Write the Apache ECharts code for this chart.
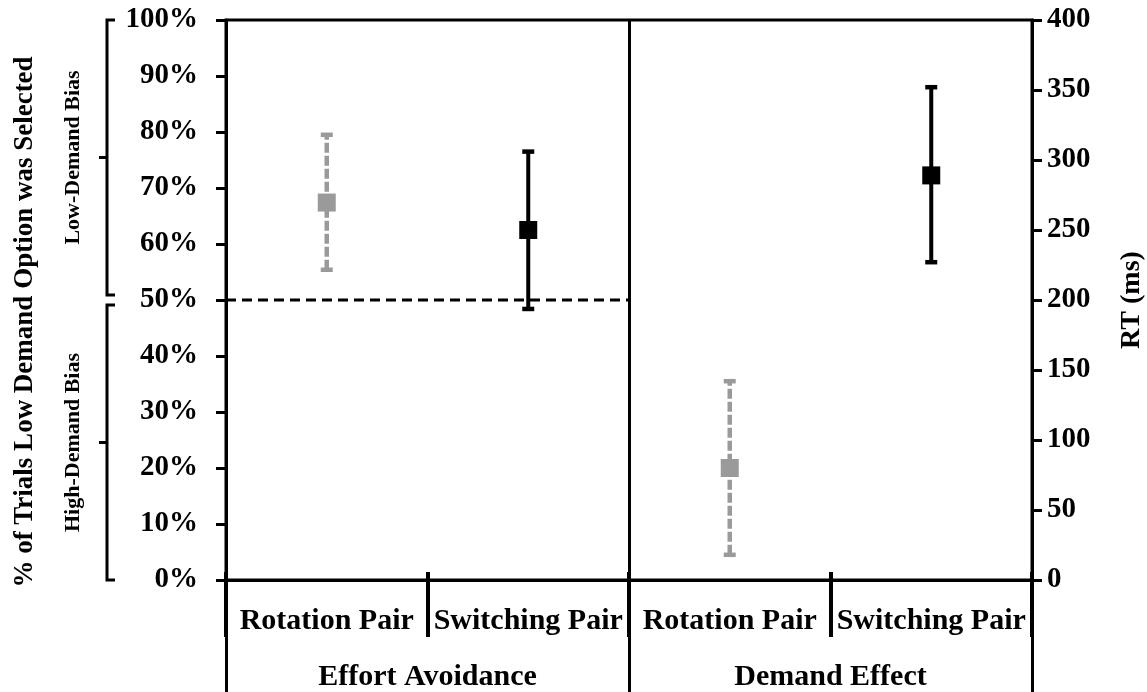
<!DOCTYPE html>
<html>
<head>
<meta charset="utf-8">
<script src="https://cdn.jsdelivr.net/npm/echarts@6/dist/echarts.min.js"></script>
<style>html,body{margin:0;padding:0;background:#fff;}#chart{width:1147px;height:692px;}</style>
</head>
<body>
<div id="chart"></div>
<script>
// ---- data ----
const categories = ['Rotation Pair', 'Switching Pair', 'Rotation Pair', 'Switching Pair'];
const groups = ['Effort Avoidance', 'Demand Effect'];
// Effort Avoidance: % of trials low-demand option selected
const effortMean = [67.4, 62.5];
const effortLow = [55.4, 48.4];
const effortHigh = [79.5, 76.5];
// Demand Effect: RT (ms)
const demandMean = [80, 289];
const demandLow = [18, 227];
const demandHigh = [142, 352];
const chanceLevel = 50;
const pctAxis = { min: 0, max: 100, interval: 10 };
const rtAxis = { min: 0, max: 400, interval: 50 };

const FONT = 'Liberation Serif';
const GRAY = '#9a9a9a';

const chart = echarts.init(document.getElementById('chart'), null, { renderer: 'canvas' });

const effortData = effortMean.map((m, i) => [i, m, effortLow[i], effortHigh[i]]);
const demandData = demandMean.map((m, i) => [i + 2, m, demandLow[i], demandHigh[i]]);

function renderErr(params, api) {
  const xi = api.value(0);
  const pM = api.coord([xi, api.value(1)]);
  const pL = api.coord([xi, api.value(2)]);
  const pH = api.coord([xi, api.value(3)]);
  const gray = xi % 2 === 0;
  const c = gray ? GRAY : '#000';
  const cap = 6, sq = 18;
  return {
    type: 'group',
    children: [
      { type: 'line', shape: { x1: pL[0], y1: pL[1], x2: pH[0], y2: pH[1] },
        style: { stroke: c, lineWidth: gray ? 4.5 : 4, lineDash: gray ? [10, 3] : null } },
      { type: 'line', shape: { x1: pL[0] - cap, y1: pL[1], x2: pL[0] + cap, y2: pL[1] },
        style: { stroke: c, lineWidth: 4.5 } },
      { type: 'line', shape: { x1: pH[0] - cap, y1: pH[1], x2: pH[0] + cap, y2: pH[1] },
        style: { stroke: c, lineWidth: 4.5 } },
      { type: 'rect', shape: { x: pM[0] - sq / 2, y: pM[1] - sq / 2, width: sq, height: sq },
        style: { fill: c } }
    ]
  };
}

const labelStyle = { fontFamily: FONT, fontWeight: 'bold', color: '#000' };

const option = {
  animation: false,
  backgroundColor: '#fff',
  grid: { left: 226, right: 115, top: 20, bottom: 112, show: true, borderColor: '#000', borderWidth: 3, backgroundColor: 'transparent' },
  xAxis: [
    { type: 'category', data: categories, position: 'bottom',
      axisLine: { lineStyle: { color: '#000', width: 3 } },
      axisTick: { show: true, length: 57, lineStyle: { color: '#000', width: 4 } },
      axisLabel: Object.assign({ fontSize: 30, margin: 26, interval: 0 }, labelStyle),
      splitLine: { show: false } },
    { type: 'category', data: categories, position: 'bottom',
      axisLine: { show: false },
      axisTick: { show: true, inside: true, length: 8, lineStyle: { color: '#000', width: 4 } },
      axisLabel: { show: false }, splitLine: { show: false } },
    { type: 'category', data: groups, position: 'bottom',
      axisLine: { show: false },
      axisTick: { show: true, length: 112, lineStyle: { color: '#000', width: 3 } },
      axisLabel: Object.assign({ fontSize: 30, margin: 82, interval: 0 }, labelStyle),
      splitLine: { show: true, lineStyle: { color: '#000', width: 3 } } },
    { type: 'value', min: 0, max: 4, show: false }
  ],
  yAxis: [
    { type: 'value', position: 'left', min: pctAxis.min, max: pctAxis.max, interval: pctAxis.interval,
      axisLine: { show: true, lineStyle: { color: '#000', width: 3 } },
      axisTick: { show: true, length: 10, lineStyle: { color: '#000', width: 3 } },
      axisLabel: Object.assign({ fontSize: 29, margin: 28, formatter: '{value}%' }, labelStyle),
      splitLine: { show: false } },
    { type: 'value', position: 'right', min: rtAxis.min, max: rtAxis.max, interval: rtAxis.interval,
      axisLine: { show: true, lineStyle: { color: '#000', width: 3 } },
      axisTick: { show: true, length: 10, lineStyle: { color: '#000', width: 3 } },
      axisLabel: Object.assign({ fontSize: 29, margin: 15 }, labelStyle),
      splitLine: { show: false } }
  ],
  series: [
    { type: 'line', xAxisIndex: 3, yAxisIndex: 0, data: [[0, chanceLevel], [2, chanceLevel]],
      symbol: 'none', lineStyle: { color: '#000', width: 3, type: [10, 6] }, z: 1 },
    { type: 'custom', xAxisIndex: 0, yAxisIndex: 0, data: effortData, renderItem: renderErr, z: 5 },
    { type: 'custom', xAxisIndex: 0, yAxisIndex: 1, data: demandData, renderItem: renderErr, z: 5 }
  ]
};
chart.setOption(option);

// decorative brackets + axis titles
const y100 = chart.convertToPixel({ yAxisIndex: 0 }, 100);
const y50 = chart.convertToPixel({ yAxisIndex: 0 }, 50);
const y0 = chart.convertToPixel({ yAxisIndex: 0 }, 0);
const bx = 107;
function bracket(top, bot) {
  return {
    type: 'polyline',
    shape: { points: [[bx + 8, top], [bx, top], [bx, bot], [bx + 8, bot]] },
    style: { stroke: '#000', lineWidth: 3, fill: null }
  };
}
function midTick(top, bot) {
  const mid = (top + bot) / 2;
  return { type: 'line', shape: { x1: bx - 8, y1: mid, x2: bx, y2: mid }, style: { stroke: '#000', lineWidth: 3 } };
}
const up = [y100, y50 - 5], lo = [y50 + 5, y0];
chart.setOption({
  graphic: [
    bracket(up[0], up[1]), midTick(up[0], up[1]),
    bracket(lo[0], lo[1]), midTick(lo[0], lo[1]),
    { type: 'text', x: 73, y: (up[0] + up[1]) / 2, rotation: Math.PI / 2,
      style: { text: 'Low-Demand Bias', font: 'bold 22px "Liberation Serif"', fill: '#000', align: 'center', verticalAlign: 'middle' } },
    { type: 'text', x: 73, y: (lo[0] + lo[1]) / 2, rotation: Math.PI / 2,
      style: { text: 'High-Demand Bias', font: 'bold 22px "Liberation Serif"', fill: '#000', align: 'center', verticalAlign: 'middle' } },
    { type: 'text', x: 25, y: 322, rotation: Math.PI / 2,
      style: { text: '% of Trials Low Demand Option was Selected', font: 'bold 27px "Liberation Serif"', fill: '#000', align: 'center', verticalAlign: 'middle' } },
    { type: 'text', x: 1132, y: 300, rotation: Math.PI / 2,
      style: { text: 'RT (ms)', font: 'bold 28px "Liberation Serif"', fill: '#000', align: 'center', verticalAlign: 'middle' } }
  ]
});
</script>
</body>
</html>
